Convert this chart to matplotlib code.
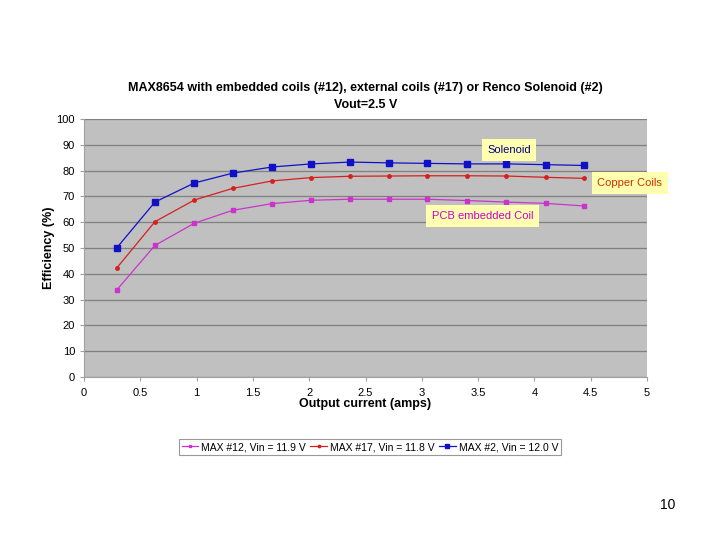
import numpy as np
import matplotlib.pyplot as plt

plt.rcParams['font.family'] = ['Liberation Sans', 'DejaVu Sans']

# output current (amps)
current = [0.29, 0.63, 0.98, 1.32, 1.67, 2.02, 2.36, 2.71, 3.05, 3.40, 3.75, 4.10, 4.44]

# efficiency (%)
eff_pcb = [33.7, 51.0, 59.6, 64.6, 67.2, 68.5, 68.9, 68.9, 68.9, 68.4, 67.8, 67.3, 66.3]
eff_copper = [42.2, 60.2, 68.6, 73.1, 76.0, 77.3, 77.8, 77.9, 78.0, 78.0, 77.9, 77.4, 77.0]
eff_solenoid = [50.0, 67.8, 75.2, 79.0, 81.4, 82.6, 83.3, 83.0, 82.8, 82.6, 82.6, 82.3, 82.0]

series_names = ['MAX #12, Vin = 11.9 V', 'MAX #17, Vin = 11.8 V', 'MAX #2, Vin = 12.0 V']
xticks = [0, 0.5, 1, 1.5, 2, 2.5, 3, 3.5, 4, 4.5, 5]
yticks = list(range(0, 101, 10))

fig = plt.figure(figsize=(7.2, 5.4), dpi=100)
ax = fig.add_axes([84 / 720, 163 / 540, 563 / 720, 258 / 540])
ax.set_facecolor('#c0c0c0')

ax.plot(current, eff_pcb, color='#cc33cc', marker='s', markersize=2.5, lw=0.9, label=series_names[0])
ax.plot(current, eff_copper, color='#d62020', marker='o', markersize=2.5, lw=0.9, label=series_names[1])
ax.plot(current, eff_solenoid, color='#1010c8', marker='s', markersize=4.5, lw=0.9, label=series_names[2])

ax.set_xlim(0, 5)
ax.set_ylim(0, 100)
ax.set_xticks(xticks)
ax.set_xticklabels([('%g' % t) for t in xticks])
ax.set_yticks(yticks)
ax.yaxis.grid(True, color='#808080', lw=0.9)
ax.set_axisbelow(True)
for s in ['top', 'right']:
    ax.spines[s].set_visible(False)
ax.spines['left'].set_color('#a0a0a0')
ax.spines['bottom'].set_color('#a0a0a0')
ax.tick_params(axis='both', labelsize=8, colors='#a0a0a0', labelcolor='black', length=3, width=0.8)
ax.tick_params(axis='x', pad=5)

ax.set_xlabel('Output current (amps)', fontsize=9, fontweight='bold', labelpad=0)
ax.set_ylabel('Efficiency (%)', fontsize=9, fontweight='bold', labelpad=1)
ax.set_title('MAX8654 with embedded coils (#12), external coils (#17) or Renco Solenoid (#2)\nVout=2.5 V',
             fontsize=9, fontweight='bold', pad=8, linespacing=1.5)

box = dict(boxstyle='square,pad=0.5', facecolor='#ffffb0', edgecolor='none')
ax.text(3.58, 88, 'Solenoid', color='#000080', fontsize=8, va='center', bbox=box)
ax.text(4.56, 75.2, 'Copper Coils', color='#c83200', fontsize=8, va='center', bbox=box)
ax.text(3.09, 62.4, 'PCB embedded Coil', color='#cc00cc', fontsize=8, va='center', bbox=box)

leg = fig.legend(loc='center', bbox_to_anchor=(370 / 720, 1 - 447 / 540), ncol=3, fontsize=7.5,
                 frameon=True, fancybox=False, edgecolor='#808080', handlelength=1.6,
                 handletextpad=0.3, columnspacing=0.4, borderpad=0.3, markerscale=0.7)
leg.get_frame().set_linewidth(0.8)

fig.text(668 / 720, 1 - 505 / 540, '10', fontsize=10, ha='center', va='center')

fig.savefig('out.png', dpi=100)
